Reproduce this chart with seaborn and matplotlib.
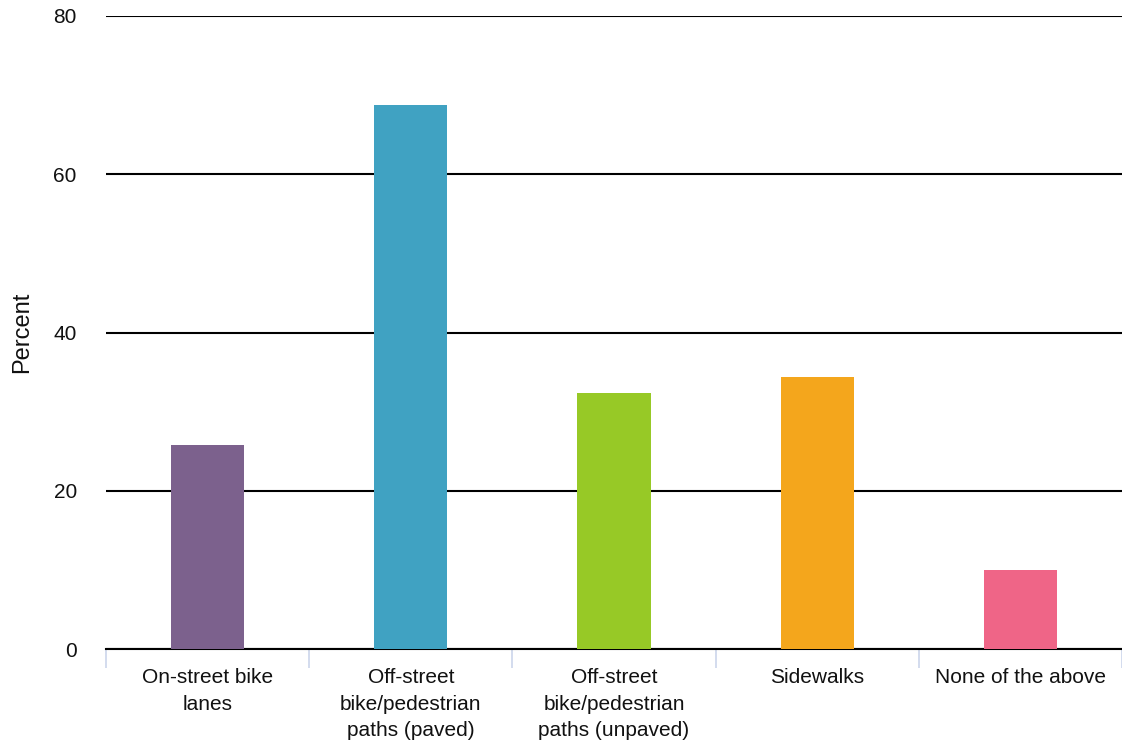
import pandas as pd
import seaborn as sns
import matplotlib.pyplot as plt
from matplotlib.ticker import FixedLocator

categories = ["On-street bike\nlanes",
              "Off-street\nbike/pedestrian\npaths (paved)",
              "Off-street\nbike/pedestrian\npaths (unpaved)",
              "Sidewalks",
              "None of the above"]
percent = [25.8, 68.7, 32.4, 34.4, 10.0]
colors = ["#7c618d", "#40a2c2", "#97c926", "#f4a61c", "#ef6587"]
y_ticks = [0, 20, 40, 60, 80]

df = pd.DataFrame({"category": categories, "percent": percent})

sns.set_style("white")
plt.rcParams['font.family'] = ['Liberation Sans', 'DejaVu Sans']

fig = plt.figure(figsize=(11.22, 7.51), dpi=100)
ax = fig.add_axes([0.0945, 0.1358, 0.9055, 0.8429])

# grid lines first, bars drawn over them
ax.set_axisbelow(True)
ax.yaxis.grid(True, color="black", linewidth=1.5)

sns.barplot(data=df, x="category", y="percent", hue="category",
            palette=colors, width=0.36, saturation=1, linewidth=0,
            legend=False, ax=ax, zorder=3)

ax.set_ylim(0, 80)
ax.set_xlim(-0.5, 4.5)
ax.set_yticks(y_ticks)
ax.tick_params(axis="y", length=0, pad=21, labelsize=15, labelcolor="#111111")
ax.tick_params(axis="x", which="major", length=0, pad=14, labelsize=15,
               labelcolor="#111111")
for lab in ax.get_xticklabels():
    lab.set_linespacing(1.5)
ax.xaxis.set_minor_locator(FixedLocator([-0.5, 0.5, 1.5, 2.5, 3.5, 4.5]))
ax.tick_params(axis="x", which="minor", bottom=True, length=14, width=1.2,
               color="#ccd6eb")

for s in ["top", "right", "left"]:
    ax.spines[s].set_visible(False)
ax.spines["bottom"].set_color("black")
ax.spines["bottom"].set_linewidth(1.5)

ax.set_xlabel("")
ax.set_ylabel("Percent", fontsize=17, color="#111111")
ax.yaxis.set_label_coords(-0.072, 0.5)

plt.savefig("out.png", dpi=100)
plt.close()
